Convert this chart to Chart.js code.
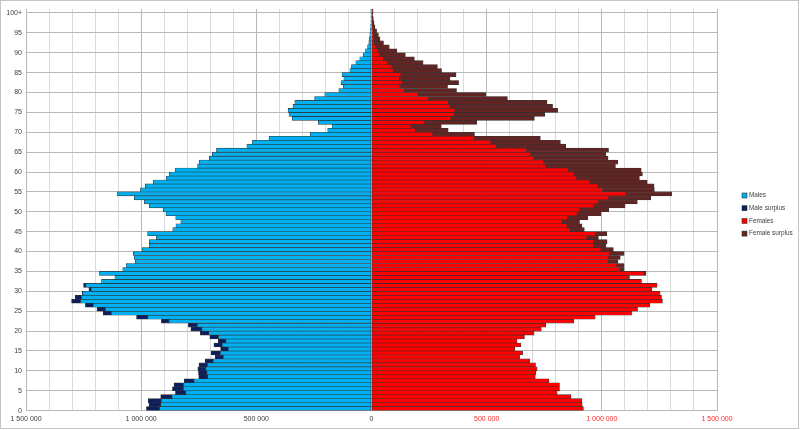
<!DOCTYPE html>
<html>
<head>
<meta charset="utf-8">
<script src="https://cdn.jsdelivr.net/npm/chart.js@4.4.0/dist/chart.umd.min.js"></script>
<style>
  html, body { margin: 0; padding: 0; background: #fff; }
</style>
</head>
<body>
<canvas id="pyramid" width="800" height="430"></canvas>
<script>
// age groups 0 .. 100+
const ages = Array.from({ length: 101 }, (_, i) => (i === 100 ? '100+' : String(i)));

// totals per age, in thousands
const maleTotals = [
  977, 966, 969, 915, 851, 864, 857, 813, 750, 751,
  754, 749, 722, 678, 696, 655, 684, 665, 702, 743,
  784, 795, 912, 1020, 1165, 1192, 1242, 1302, 1286, 1256,
  1227, 1250, 1172, 1114, 1181, 1080, 1065, 1026, 1030, 1034,
  996, 965, 965, 934, 972, 863, 849, 828, 850, 892,
  904, 965, 986, 1030, 1103, 1003, 982, 947, 891, 878,
  853, 755, 748, 704, 691, 673, 541, 517, 445, 266,
  190, 171, 231, 344, 358, 362, 341, 333, 247, 203,
  142, 123, 132, 120, 128, 94, 87, 68, 51, 36,
  26, 17, 12, 9, 7, 5, 4, 3, 2, 2,
  3
];
const femaleTotals = [
  920, 915, 913, 866, 806, 816, 816, 770, 711, 714,
  719, 712, 687, 643, 656, 622, 648, 632, 664, 706,
  737, 756, 879, 971, 1129, 1155, 1208, 1263, 1259, 1253,
  1217, 1240, 1172, 1120, 1192, 1097, 1097, 1070, 1080, 1097,
  1050, 1018, 1023, 985, 1022, 924, 914, 903, 939, 996,
  1030, 1101, 1154, 1212, 1303, 1228, 1227, 1197, 1163, 1176,
  1171, 1059, 1069, 1027, 1017, 1029, 843, 820, 733, 447,
  333, 303, 457, 707, 752, 808, 786, 762, 590, 496,
  369, 330, 378, 341, 367, 304, 286, 224, 186, 147,
  110, 77, 52, 37, 30, 22, 15, 11, 8, 6,
  7
];

const seriesNames = ['Males', 'Male surplus', 'Females', 'Female surplus'];
const seriesColors = ['#00b0f0', '#0b1f5e', '#ff0000', '#632523'];
const xTicks = [-1500000, -1000000, -500000, 0, 500000, 1000000, 1500000];

// common part and surplus of each side
const common = maleTotals.map((m, i) => Math.min(m, femaleTotals[i]) * 1000);
const maleSurplus = maleTotals.map((m, i) => Math.max(0, m - femaleTotals[i]) * 1000);
const femaleSurplus = femaleTotals.map((f, i) => Math.max(0, f - maleTotals[i]) * 1000);

const fmt = v => String(Math.abs(v)).replace(/\B(?=(\d{3})+(?!\d))/g, ' ');

// white background + thin outer frame
const frame = {
  id: 'frame',
  beforeDraw(chart) {
    const c = chart.ctx;
    c.save();
    c.fillStyle = '#fff';
    c.fillRect(0, 0, chart.width, chart.height);
    c.restore();
  },
  afterDraw(chart) {
    const c = chart.ctx;
    c.save();
    c.strokeStyle = '#c4c4c4';
    c.lineWidth = 1;
    c.strokeRect(0.5, 0.5, 798, 428);
    c.restore();
  }
};

// legend on the right, drawn from the datasets
const sideLegend = {
  id: 'sideLegend',
  afterDraw(chart) {
    const c = chart.ctx;
    c.save();
    c.font = '6.4px "Liberation Sans"';
    c.textBaseline = 'middle';
    chart.data.datasets.forEach((ds, i) => {
      const y = 195.5 + i * 12.7;
      c.fillStyle = ds.backgroundColor;
      c.fillRect(742, y - 2.5, 5, 5);
      c.strokeStyle = '#333';
      c.lineWidth = 0.6;
      c.strokeRect(742, y - 2.5, 5, 5);
      c.fillStyle = '#404040';
      c.fillText(ds.label, 749, y);
    });
    c.restore();
  }
};

const barStyle = {
  barPercentage: 1,
  categoryPercentage: 1,
  borderWidth: 0.6,
  borderColor: '#333333',
  borderSkipped: false
};

const chart = new Chart(document.getElementById('pyramid').getContext('2d'), {
  type: 'bar',
  data: {
    labels: ages,
    datasets: [
      { label: seriesNames[0], data: common.map(v => -v), backgroundColor: seriesColors[0], ...barStyle },
      { label: seriesNames[1], data: maleSurplus.map(v => -v), backgroundColor: seriesColors[1], ...barStyle },
      { label: seriesNames[2], data: common, backgroundColor: seriesColors[2], ...barStyle },
      { label: seriesNames[3], data: femaleSurplus, backgroundColor: seriesColors[3], ...barStyle }
    ]
  },
  options: {
    indexAxis: 'y',
    responsive: false,
    animation: false,
    layout: { padding: { left: 4, top: 9, bottom: 3, right: 83 } },
    scales: {
      x: {
        stacked: true,
        min: xTicks[0],
        max: xTicks[xTicks.length - 1],
        ticks: {
          stepSize: 100000,
          autoSkip: false,
          maxRotation: 0,
          padding: 4,
          font: { family: 'Liberation Sans', size: 7 },
          color: ctx => (ctx.tick && ctx.tick.value > 0 ? '#ff2a2a' : '#404040'),
          callback: v => (xTicks.includes(v) ? fmt(v) : '')
        },
        grid: {
          drawTicks: false,
          color: ctx => (ctx.tick && xTicks.includes(ctx.tick.value) ? '#b8b8b8' : '#dadada')
        },
        border: { display: false }
      },
      y: {
        stacked: true,
        reverse: true,
        ticks: {
          autoSkip: false,
          labelOffset: 2,
          padding: 4,
          font: { family: 'Liberation Sans', size: 7 },
          color: '#404040',
          callback: (v, i) => (i % 5 === 0 ? ages[i] : '')
        },
        grid: {
          offset: true,
          drawTicks: false,
          color: ctx => (ctx.index % 5 === 0 ? '#b8b8b8' : 'transparent')
        },
        border: { display: false },
        afterFit: s => { s.width = 22; }
      }
    },
    plugins: {
      legend: { display: false },
      tooltip: { enabled: false }
    }
  },
  plugins: [frame, sideLegend]
});
</script>
</body>
</html>
